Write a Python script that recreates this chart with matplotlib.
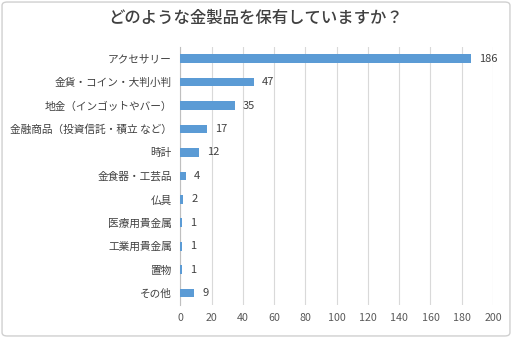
import matplotlib.pyplot as plt
from matplotlib.patches import FancyBboxPatch

plt.rcParams['font.family'] = ['Noto Sans CJK JP', 'DejaVu Sans']

# データ
categories = ['アクセサリー', '金貨・コイン・大判小判', '地金（インゴットやバー）',
              '金融商品（投資信託・積立 など）', '時計', '金食器・工芸品', '仏具',
              '医療用貴金属', '工業用貴金属', '置物', 'その他']
counts = [186, 47, 35, 17, 12, 4, 2, 1, 1, 1, 9]
xticks = [0, 20, 40, 60, 80, 100, 120, 140, 160, 180, 200]

fig = plt.figure(figsize=(5.12, 3.38), dpi=100)
ax = fig.add_axes([0.352, 0.098, 0.611, 0.763])

y = list(range(len(categories)))
ax.barh(y, counts, height=0.37, color='#5B9BD5', zorder=3)
ax.set_ylim(len(categories) - 0.5, -0.5)
ax.set_xlim(0, 200)
ax.set_xticks(xticks)
ax.set_yticks(y)
ax.set_yticklabels(categories, fontsize=7.7, color='#404040')
ax.tick_params(axis='x', labelsize=7.7, labelcolor='#595959', length=0, pad=6)
ax.tick_params(axis='y', length=0, pad=6)
ax.grid(axis='x', color='#D9D9D9', linewidth=0.8, zorder=0)
for s in ['top', 'right', 'bottom']:
    ax.spines[s].set_visible(False)
ax.spines['left'].set_color('#BFBFBF')

# 値ラベル
for yi, c in zip(y, counts):
    ax.text(c + 5, yi, str(c), va='center', ha='left', fontsize=8, color='#404040')

fig.text(0.5, 0.945, 'どのような金製品を保有していますか？', ha='center', va='center',
         fontsize=11.8, color='#404040', fontweight='medium')

# 外枠
border = FancyBboxPatch((0.004, 0.006), 0.992, 0.988, boxstyle='round,pad=0,rounding_size=0.01',
                        transform=fig.transFigure, fill=False, edgecolor='#D0D0D0', linewidth=1)
fig.patches.append(border)

fig.savefig('out.png', dpi=100)
